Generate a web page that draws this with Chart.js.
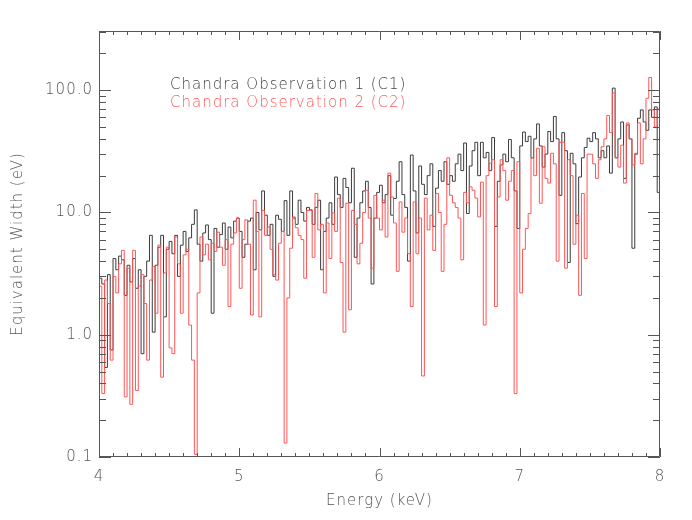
<!DOCTYPE html>
<html>
<head>
<meta charset="utf-8">
<script src="https://cdn.jsdelivr.net/npm/chart.js@4.4.1/dist/chart.umd.min.js"></script>
<style>
  html, body { margin: 0; padding: 0; background: #fff; }
  #wrap { width: 692px; height: 520px; }
</style>
</head>
<body>
<div id="wrap"><canvas id="ewChart" width="692" height="520"></canvas></div>
<script>
// energy bins: 0.02 keV wide, starting at 4.0 keV
const binStart = 4.0;
const binWidth = 0.02;

// Chandra observation 1 (C1), equivalent width in eV per bin
const c1Values = [
  2.9, 2.6, 0.54, 3.1, 0.75, 4.2, 3.4, 4.4, 4.1, 2.1, 3.7, 2.7, 4.2, 2.4, 3.4, 0.7, 3.0, 4.0, 6.5, 1.05, 3.7, 5.2, 6.5, 1.4, 5.0,
  5.8, 4.6, 6.5, 3.0, 5.4, 7.0, 4.8, 6.2, 8.0, 10.5, 5.5, 4.0, 6.8, 7.9, 6.0, 1.5, 7.4, 5.2, 6.6, 8.2, 5.0, 7.6, 6.2, 8.5, 9.0,
  7.0, 4.3, 5.5, 8.5, 9.0, 3.4, 10.0, 7.2, 15.0, 9.5, 6.5, 8.0, 3.0, 9.5, 8.8, 7.0, 12.5, 6.5, 15.0, 9.0, 8.0, 12.6, 10.0, 8.5, 11.0,
  10.5, 8.0, 11.0, 12.6, 3.4, 7.0, 9.0, 12.0, 8.0, 19.5, 14.0, 11.0, 19.0, 16.0, 12.0, 23.0, 4.3, 9.0, 12.0, 15.0, 18.0, 11.0, 2.6, 9.0, 14.6,
  16.7, 12.0, 14.0, 20.0, 9.5, 13.0, 18.0, 26.0, 14.0, 11.0, 4.0, 29.5, 15.0, 6.8, 24.0, 17.0, 14.0, 20.0, 25.0, 7.7, 15.8, 22.0, 18.0, 26.0, 17.0,
  20.0, 18.0, 25.0, 30.0, 22.0, 37.0, 9.8, 24.0, 32.0, 37.5, 20.0, 37.5, 28.0, 31.0, 22.0, 41.0, 7.7, 18.0, 24.5, 30.0, 26.0, 39.5, 28.0, 15.0, 7.4,
  35.0, 45.5, 38.0, 42.0, 28.0, 40.0, 53.0, 35.0, 23.5, 30.0, 46.0, 38.0, 61.0, 40.0, 13.8, 45.0, 32.0, 3.9, 30.5, 25.0, 8.1, 19.5, 28.0, 34.0, 40.5,
  38.0, 45.0, 40.0, 28.0, 32.0, 28.0, 35.0, 21.0, 104.0, 28.0, 40.0, 55.0, 19.0, 52.0, 40.0, 5.1, 30.0, 59.0, 69.0, 55.0, 47.0, 69.0, 60.0, 73.0, 14.6
];

// Chandra observation 2 (C2)
const c2Values = [
  2.5, 0.33, 2.8, 1.8, 0.62, 3.0, 2.2, 3.8, 4.9, 0.31, 3.5, 0.27, 4.9, 0.35, 2.5, 3.1, 1.8, 0.62, 2.8, 3.6, 1.5, 5.4, 0.45, 3.2, 5.2,
  0.78, 0.7, 6.3, 3.8, 1.5, 4.5, 5.0, 1.2, 0.62, 0.105, 2.2, 6.3, 4.5, 5.5, 4.1, 5.6, 4.8, 6.9, 5.2, 3.7, 6.0, 1.7, 5.5, 6.8, 9.0,
  2.4, 6.0, 8.7, 5.5, 1.45, 12.6, 7.0, 1.4, 10.4, 6.5, 7.6, 5.0, 3.1, 2.8, 5.6, 7.0, 0.13, 2.0, 5.1, 9.2, 7.5, 6.5, 6.0, 2.9, 10.4,
  10.4, 4.3, 14.3, 7.2, 8.0, 2.2, 8.2, 4.2, 9.9, 7.0, 13.1, 3.9, 1.05, 11.9, 1.6, 10.4, 8.0, 3.8, 5.6, 10.0, 15.2, 9.0, 3.5, 13.8, 9.0,
  7.2, 12.6, 6.3, 21.0, 13.4, 8.2, 3.3, 12.2, 6.9, 9.0, 4.6, 1.7, 12.2, 4.6, 9.0, 0.46, 13.1, 7.2, 9.5, 4.9, 14.3, 10.0, 3.3, 8.0, 28.0,
  13.8, 12.0, 11.0, 9.0, 4.1, 14.6, 12.0, 16.2, 15.2, 13.1, 9.2, 17.7, 1.2, 20.0, 25.3, 27.0, 1.7, 13.4, 27.0, 22.0, 12.6, 18.0, 22.0, 0.33, 26.0,
  2.2, 5.0, 7.4, 9.8, 28.0, 20.0, 33.5, 11.9, 34.5, 19.0, 17.4, 30.5, 25.0, 4.0, 37.5, 37.5, 3.5, 27.0, 20.0, 5.5, 9.5, 2.1, 14.3, 4.2, 30.0,
  30.0, 25.0, 19.0, 27.0, 34.5, 40.0, 62.0, 45.0, 95.0, 28.0, 23.5, 35.5, 17.4, 54.0, 40.0, 24.5, 30.5, 54.0, 25.0, 40.0, 86.0, 127.0, 69.0, 50.0, 70.0
];

const xTickValues = [4, 5, 6, 7, 8];
const yTickValues = [0.1, 1, 10, 100];
const seriesLabels = ["Chandra Observation 1 (C1)", "Chandra Observation 2 (C2)"];

const axisColor = "#555555";
const c1Color = "rgb(60,60,60)";
const c2Color = "rgb(255,85,85)";
const legend1Color = "#444444";
const legend2Color = "rgb(255,90,90)";
const fontFamily = "'DejaVu Sans', sans-serif";
const textFont = { family: fontFamily, size: 15, weight: 200 };

// histogram: one point at each bin's left edge, plus the closing right edge
function toSteps(values) {
  const pts = values.map((v, i) => ({ x: +(binStart + i * binWidth).toFixed(3), y: v }));
  pts.push({ x: +(binStart + values.length * binWidth).toFixed(3), y: values[values.length - 1] });
  return pts;
}

// the original lettering is wide and thin, spread the glyphs a bit
const wideText = {
  id: "wideText",
  beforeUpdate(chart) { chart.ctx.letterSpacing = "1px"; },
  beforeDraw(chart) { chart.ctx.letterSpacing = "1px"; }
};

// IDL style box with inward major/minor ticks on all four sides
const frameTicks = {
  id: "frameTicks",
  afterDatasetsDraw(chart) {
    const { ctx, chartArea: a, scales: { x, y } } = chart;
    ctx.save();
    ctx.strokeStyle = axisColor;
    ctx.lineWidth = 1;
    ctx.beginPath();
    ctx.rect(a.left + 0.5, a.top + 0.5, a.right - a.left - 1, a.bottom - a.top - 1);
    for (let k = 0; k <= 40; k++) {
      const e = 4 + k * 0.1;
      const px = Math.round(x.getPixelForValue(e)) + 0.5;
      const len = k % 10 === 0 ? 9 : 4;
      ctx.moveTo(px, a.bottom); ctx.lineTo(px, a.bottom - len);
      ctx.moveTo(px, a.top); ctx.lineTo(px, a.top + len);
    }
    for (const d of yTickValues) {
      for (let m = 1; m <= 9; m++) {
        const v = d * m;
        if (v > y.max) break;
        const py = Math.round(y.getPixelForValue(v)) + 0.5;
        const len = m === 1 ? 12 : 7;
        ctx.moveTo(a.left, py); ctx.lineTo(a.left + len, py);
        ctx.moveTo(a.right, py); ctx.lineTo(a.right - len, py);
      }
    }
    ctx.stroke();

    // legend text, no samples
    ctx.font = "200 15px " + fontFamily;
    ctx.textBaseline = "middle";
    ctx.textAlign = "left";
    ctx.fillStyle = legend1Color;
    ctx.fillText(seriesLabels[0], 170, 85);
    ctx.fillStyle = legend2Color;
    ctx.fillText(seriesLabels[1], 170, 103);
    ctx.restore();
  }
};

const ctx = document.getElementById("ewChart").getContext("2d");
new Chart(ctx, {
  type: "line",
  data: {
    datasets: [
      {
        label: seriesLabels[1],
        data: toSteps(c2Values),
        borderColor: c2Color,
        borderWidth: 1,
        stepped: true,
        pointRadius: 0,
        fill: false,
        order: 0
      },
      {
        label: seriesLabels[0],
        data: toSteps(c1Values),
        borderColor: c1Color,
        borderWidth: 1,
        stepped: true,
        pointRadius: 0,
        fill: false,
        order: 1
      }
    ]
  },
  options: {
    responsive: false,
    animation: false,
    devicePixelRatio: 1,
    layout: { padding: { left: 0, top: 31, right: 32, bottom: 0 } },
    plugins: { legend: { display: false }, tooltip: { enabled: false } },
    scales: {
      x: {
        type: "linear",
        min: 4,
        max: 8,
        afterBuildTicks: (s) => { s.ticks = xTickValues.map(v => ({ value: v })); },
        afterFit: (s) => { s.height = 63; },
        grid: { display: false, drawTicks: false },
        border: { display: false },
        ticks: {
          color: axisColor,
          font: textFont,
          padding: 11,
          maxRotation: 0,
          callback: (v) => String(v)
        },
        title: {
          display: true,
          text: "Energy (keV)",
          color: axisColor,
          font: textFont,
          padding: { top: 0, bottom: 10 }
        }
      },
      y: {
        type: "logarithmic",
        min: 0.1,
        max: 305,
        afterBuildTicks: (s) => { s.ticks = yTickValues.map(v => ({ value: v })); },
        afterFit: (s) => { s.width = 99; },
        grid: { display: false, drawTicks: false },
        border: { display: false },
        ticks: {
          color: axisColor,
          font: textFont,
          padding: 6,
          callback: (v) => Number(v).toFixed(1)
        },
        title: {
          display: true,
          text: "Equivalent Width (eV)",
          color: axisColor,
          font: textFont,
          padding: { top: 9, bottom: 0 }
        }
      }
    }
  },
  plugins: [wideText, frameTicks]
});
</script>
</body>
</html>
